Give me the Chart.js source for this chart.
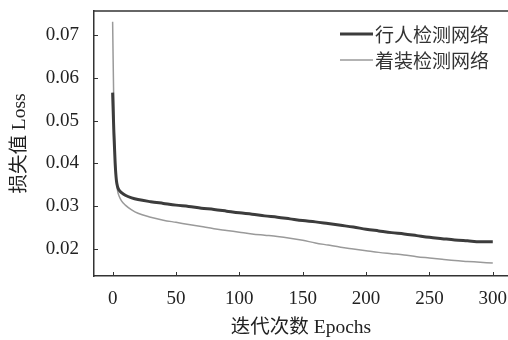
<!DOCTYPE html>
<html>
<head>
<meta charset="utf-8">
<script src="https://cdn.jsdelivr.net/npm/chart.js@4.4.1/dist/chart.umd.min.js"></script>
<style>
html,body{margin:0;padding:0;background:#fff;}
canvas{display:block;}
</style>
</head>
<body>
<canvas id="c" width="508" height="340"></canvas>
<script>
const epochs = [0,1,2,3,4,5,7,10,15,20,30,40,50,60,70,80,90,100,110,120,130,140,150,160,170,180,190,200,210,220,230,240,250,260,270,280,290,300];
const pedestrianLoss = [0.0565,0.047,0.040,0.036,0.0345,0.0338,0.0332,0.0326,0.0320,0.0316,0.0311,0.0307,0.0303,0.0300,0.0296,0.0293,0.0289,0.0285,0.0282,0.0278,0.0275,0.0271,0.0267,0.0264,0.0260,0.0256,0.0252,0.0247,0.0243,0.0239,0.0236,0.0232,0.0228,0.0225,0.0222,0.0220,0.0218,0.0218];
const clothingLoss = [0.073,0.052,0.041,0.036,0.0335,0.0325,0.0313,0.0303,0.0292,0.0284,0.0275,0.0268,0.0263,0.0258,0.0253,0.0248,0.0244,0.0240,0.0236,0.0233,0.0230,0.0226,0.0221,0.0215,0.0210,0.0205,0.0201,0.0197,0.0193,0.0190,0.0187,0.0183,0.0180,0.0177,0.0174,0.0172,0.0170,0.0168];
const seriesNames = ['行人检测网络','着装检测网络'];
const xTicks = [0,50,100,150,200,250,300];
const yTicks = [0.02,0.03,0.04,0.05,0.06,0.07];
const xTitle = '迭代次数 Epochs';
const yTitle = '损失值 Loss';

const FONT = "'Liberation Serif','Noto Sans CJK SC',serif";
const TXT = '#222';

const toPts = (ys) => epochs.map((e,i)=>({x:e,y:ys[i]}));

const extras = {
  id:'extras',
  afterDraw(chart){
    const ctx = chart.ctx, a = chart.chartArea;
    const xs = chart.scales.x, ys = chart.scales.y;
    ctx.save();
    ctx.strokeStyle = '#333';
    ctx.lineWidth = 1.5;
    ctx.beginPath(); ctx.moveTo(a.left, a.top); ctx.lineTo(a.right, a.top); ctx.stroke();
    ctx.lineWidth = 1;
    ctx.beginPath();
    xTicks.forEach(v=>{const p=Math.round(xs.getPixelForValue(v))+0.5; ctx.moveTo(p,a.bottom); ctx.lineTo(p,a.bottom-4);});
    yTicks.forEach(v=>{const p=Math.round(ys.getPixelForValue(v))+0.5; ctx.moveTo(a.left,p); ctx.lineTo(a.left+4,p);});
    ctx.stroke();
    // legend
    ctx.font = "19px 'Noto Sans CJK SC'";
    ctx.textBaseline = 'middle';
    ctx.textAlign = 'left';
    chart.data.datasets.forEach((d,i)=>{
      const y = 34 + i*26;
      ctx.strokeStyle = d.borderColor;
      ctx.lineWidth = d.borderWidth;
      ctx.beginPath(); ctx.moveTo(340,y); ctx.lineTo(373,y); ctx.stroke();
      ctx.fillStyle = '#333';
      ctx.fillText(d.label, 375, y+1);
    });
    ctx.restore();
  }
};

function noPad(s){ s.paddingTop=0; s.paddingBottom=0; s.paddingLeft=0; s.paddingRight=0; }

new Chart(document.getElementById('c'), {
  type:'line',
  data:{datasets:[
    {label:seriesNames[0], data:toPts(pedestrianLoss), borderColor:'#3c3c3c', borderWidth:3, pointRadius:0, cubicInterpolationMode:'monotone', fill:false},
    {label:seriesNames[1], data:toPts(clothingLoss), borderColor:'#9a9a9a', borderWidth:1.5, pointRadius:0, cubicInterpolationMode:'monotone', fill:false}
  ]},
  options:{
    responsive:false,
    animation:false,
    layout:{padding:{left:0,right:0,top:11,bottom:0}},
    plugins:{legend:{display:false}, tooltip:{enabled:false}},
    scales:{
      x:{
        type:'linear', min:-14.7, max:312,
        afterBuildTicks(s){ s.ticks = xTicks.map(v=>({value:v})); },
        afterFit(s){ s.height = 64; noPad(s); },
        grid:{drawOnChartArea:false, drawTicks:false},
        border:{color:'#333', width:1.5},
        ticks:{font:{family:FONT,size:19}, color:TXT, padding:12, maxRotation:0, callback:v=>String(v)},
        title:{display:true, text:xTitle, font:{family:FONT,size:19.5}, color:TXT, padding:{top:0,bottom:0}}
      },
      y:{
        type:'linear', min:0.0138, max:0.0755,
        afterBuildTicks(s){ s.ticks = yTicks.map(v=>({value:v})); },
        afterFit(s){ s.width = 94; noPad(s); },
        grid:{drawOnChartArea:false, drawTicks:false},
        border:{color:'#333', width:1.5},
        ticks:{font:{family:FONT,size:19}, color:TXT, padding:15, callback:v=>v.toFixed(2)},
        title:{display:true, text:yTitle, font:{family:FONT,size:19.5}, color:TXT, padding:{top:8,bottom:0}}
      }
    }
  },
  plugins:[extras]
});
</script>
</body>
</html>
